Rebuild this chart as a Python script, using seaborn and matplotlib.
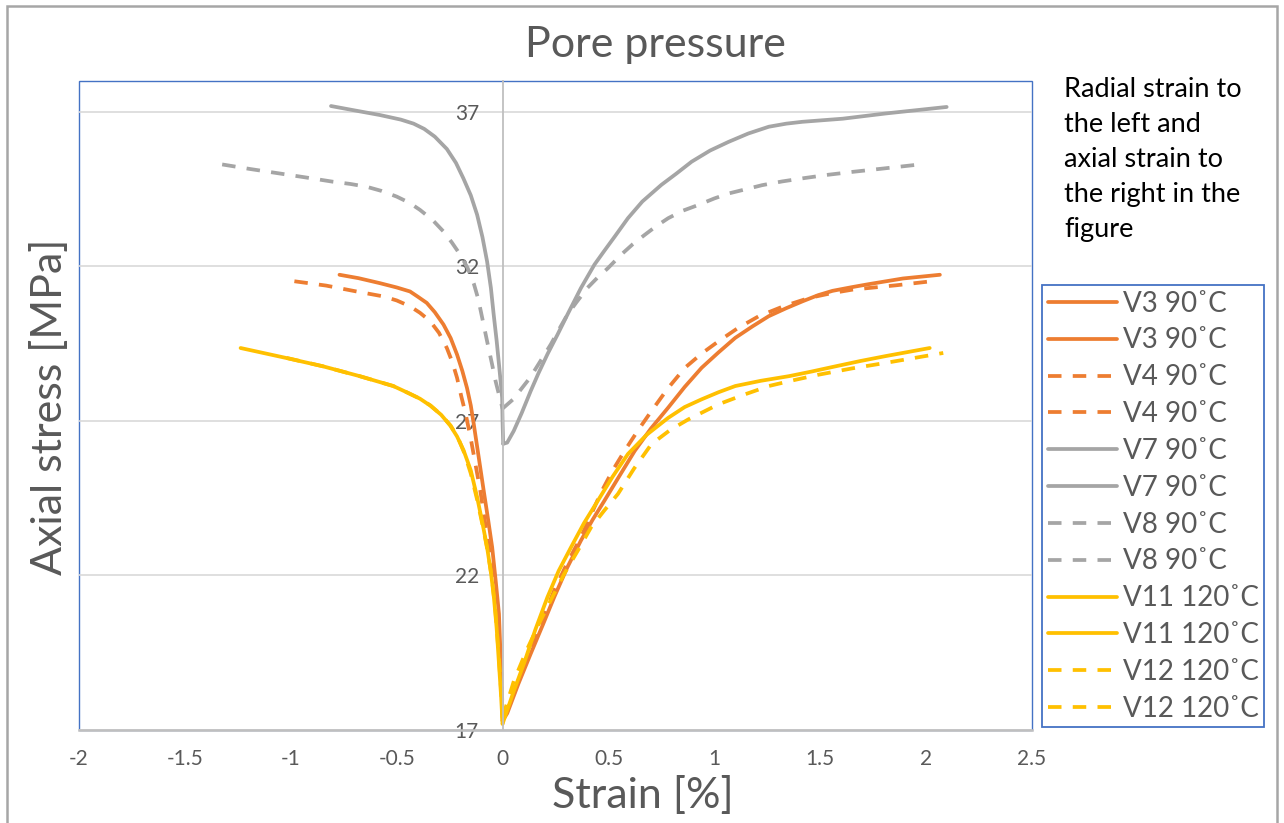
import matplotlib
matplotlib.use("Agg")
import matplotlib.pyplot as plt
from matplotlib.patches import Rectangle
import seaborn as sns

# ---------------- data (strain %, axial stress MPa) ----------------
v3_radial_x = [-0.77, -0.68, -0.58, -0.5, -0.437, -0.4, -0.358, -0.32, -0.279, -0.245, -0.215, -0.19,
               -0.168, -0.15, -0.136, -0.112, -0.089, -0.068, -0.049, -0.032, -0.017, -0.005, 0.0]
v3_radial_y = [31.73, 31.62, 31.46, 31.32, 31.19, 31.02, 30.82, 30.52, 30.12, 29.68, 29.15, 28.62,
               28.07, 27.5, 26.9, 25.8, 24.74, 23.8, 22.91, 21.8, 20.76, 18.6, 17.3]
v3_axial_x = [0.0, 0.022, 0.075, 0.133, 0.19, 0.244, 0.305, 0.37, 0.425, 0.481, 0.55, 0.624, 0.7, 0.782,
              0.86, 0.94, 1.02, 1.099, 1.18, 1.257, 1.34, 1.416, 1.49, 1.558, 1.65, 1.732, 1.891, 2.065]
v3_axial_y = [17.3, 17.54, 18.5, 19.47, 20.4, 21.3, 22.25, 23.13, 23.8, 24.42, 25.2, 26.03, 26.75, 27.43,
              28.1, 28.72, 29.22, 29.69, 30.06, 30.39, 30.65, 30.87, 31.07, 31.21, 31.33, 31.43, 31.61, 31.73]

v4_radial_x = [-0.983, -0.833, -0.69, -0.563, -0.5, -0.437, -0.39, -0.342, -0.3, -0.263, -0.237, -0.215,
               -0.195, -0.175, -0.152, -0.128, -0.105, -0.08, -0.057, -0.04, -0.025, -0.004, 0.0]
v4_radial_y = [31.52, 31.38, 31.19, 31.03, 30.9, 30.71, 30.5, 30.23, 29.85, 29.36, 28.9, 28.4,
               27.8, 27.25, 26.5, 25.6, 24.74, 23.6, 22.59, 21.6, 20.76, 18.6, 17.5]
v4_axial_x = [0.0, 0.038, 0.085, 0.133, 0.19, 0.244, 0.305, 0.37, 0.42, 0.466, 0.52, 0.576, 0.64, 0.703,
              0.78, 0.861, 0.94, 1.02, 1.11, 1.21, 1.33, 1.448, 1.55, 1.653, 1.859, 2.025]
v4_axial_y = [17.5, 17.86, 18.8, 19.69, 20.6, 21.52, 22.4, 23.24, 24.0, 24.7, 25.4, 26.03, 26.7, 27.32,
              28.05, 28.72, 29.18, 29.58, 30.0, 30.39, 30.72, 30.98, 31.13, 31.25, 31.39, 31.52]

v7_radial_x = [-0.81, -0.7, -0.58, -0.48, -0.42, -0.37, -0.32, -0.263, -0.22, -0.185, -0.15, -0.12,
               -0.095, -0.073, -0.055, -0.042, -0.028, -0.017, -0.008, -0.002, 0.0, 0.003]
v7_radial_y = [37.19, 37.05, 36.9, 36.75, 36.62, 36.45, 36.2, 35.8, 35.35, 34.85, 34.3, 33.67,
               32.95, 32.16, 31.3, 30.45, 29.6, 28.84, 28.2, 27.75, 27.0, 26.26]
v7_axial_x = [0.003, 0.022, 0.053, 0.09, 0.133, 0.17, 0.212, 0.26, 0.307, 0.37, 0.434, 0.48, 0.528, 0.592,
              0.66, 0.75, 0.82, 0.893, 0.98, 1.067, 1.16, 1.257, 1.34, 1.416, 1.606, 1.81, 2.097]
v7_axial_y = [26.26, 26.3, 26.68, 27.25, 27.97, 28.55, 29.16, 29.8, 30.45, 31.3, 32.06, 32.5, 32.95, 33.56,
              34.1, 34.64, 35.0, 35.39, 35.75, 36.03, 36.3, 36.52, 36.62, 36.68, 36.78, 36.95, 37.16]

v8_radial_x = [-1.324, -1.19, -1.055, -0.93, -0.80, -0.72, -0.643, -0.57, -0.50, -0.44, -0.39, -0.33,
               -0.279, -0.24, -0.20, -0.165, -0.136, -0.115, -0.095, -0.073, -0.05, -0.033, -0.015, 0.0]
v8_radial_y = [35.3, 35.15, 35.01, 34.88, 34.74, 34.67, 34.58, 34.44, 34.26, 34.06, 33.83, 33.5,
               33.13, 32.78, 32.38, 31.95, 31.45, 30.95, 30.3, 29.58, 28.85, 28.29, 27.8, 27.4]
v8_axial_x = [0.0, 0.05, 0.13, 0.18, 0.228, 0.268, 0.307, 0.35, 0.40, 0.45, 0.497, 0.56, 0.615, 0.671,
              0.725, 0.782, 0.85, 0.925, 1.0, 1.067, 1.15, 1.226, 1.32, 1.416, 1.53, 1.653, 1.8, 1.97]
v8_axial_y = [27.4, 27.7, 28.4, 28.95, 29.48, 29.98, 30.45, 30.85, 31.3, 31.65, 31.94, 32.38, 32.72, 33.02,
              33.3, 33.56, 33.8, 33.99, 34.2, 34.36, 34.5, 34.63, 34.75, 34.85, 34.96, 35.06, 35.17, 35.3]

v11_radial_x = [-1.237, -1.023, -0.849, -0.675, -0.516, -0.45, -0.39, -0.342, -0.29, -0.247, -0.215,
                -0.184, -0.15, -0.12, -0.095, -0.073, -0.055, -0.041, -0.028, -0.017, -0.007, 0.0]
v11_radial_y = [29.36, 29.04, 28.77, 28.45, 28.13, 27.92, 27.72, 27.5, 27.2, 26.85, 26.5,
                26.05, 25.4, 24.53, 23.7, 22.91, 22.1, 21.3, 20.3, 19.15, 18.1, 17.2]
v11_axial_x = [0.0, 0.05, 0.101, 0.155, 0.212, 0.265, 0.323, 0.385, 0.45, 0.52, 0.592, 0.68, 0.782, 0.86,
               0.94, 1.02, 1.099, 1.22, 1.353, 1.46, 1.574, 1.69, 1.81, 2.017]
v11_axial_y = [17.2, 18.2, 19.15, 20.25, 21.3, 22.15, 22.91, 23.7, 24.42, 25.2, 25.93, 26.55, 27.1, 27.45,
               27.7, 27.93, 28.13, 28.3, 28.45, 28.6, 28.77, 28.94, 29.1, 29.36]

v12_radial_x = [-1.02, -0.849, -0.675, -0.516, -0.45, -0.39, -0.34, -0.29, -0.245, -0.21, -0.18, -0.15,
                -0.12, -0.089, -0.068, -0.049, -0.033, -0.02, -0.008, 0.0]
v12_radial_y = [29.04, 28.77, 28.45, 28.13, 27.92, 27.72, 27.5, 27.2, 26.85, 26.45, 25.95, 25.3,
                24.45, 23.45, 22.7, 21.84, 20.8, 19.6, 18.4, 17.4]
v12_axial_x = [0.0, 0.054, 0.115, 0.18, 0.235, 0.291, 0.355, 0.418, 0.48, 0.545, 0.62, 0.703, 0.79, 0.877,
               0.95, 1.02, 1.14, 1.257, 1.375, 1.495, 1.65, 1.81, 2.081]
v12_axial_y = [17.4, 18.6, 19.6, 20.55, 21.3, 22.05, 22.8, 23.56, 24.1, 24.64, 25.45, 26.25, 26.7, 27.05,
               27.3, 27.54, 27.85, 28.13, 28.32, 28.5, 28.7, 28.88, 29.2]

labels = ["V3 90˚C", "V4 90˚C", "V7 90˚C", "V8 90˚C", "V11 120˚C", "V12 120˚C"]
x_ticks = [-2, -1.5, -1, -0.5, 0, 0.5, 1, 1.5, 2, 2.5]
x_tick_labels = ["-2", "-1.5", "-1", "-0.5", "0", "0.5", "1", "1.5", "2", "2.5"]
y_ticks = [17, 22, 27, 32, 37]

series = [
    (labels[0], v3_radial_x, v3_radial_y, v3_axial_x, v3_axial_y, "#ED7D31", False),
    (labels[1], v4_radial_x, v4_radial_y, v4_axial_x, v4_axial_y, "#ED7D31", True),
    (labels[2], v7_radial_x, v7_radial_y, v7_axial_x, v7_axial_y, "#A5A5A5", False),
    (labels[3], v8_radial_x, v8_radial_y, v8_axial_x, v8_axial_y, "#A5A5A5", True),
    (labels[4], v11_radial_x, v11_radial_y, v11_axial_x, v11_axial_y, "#FFC000", False),
    (labels[5], v12_radial_x, v12_radial_y, v12_axial_x, v12_axial_y, "#FFC000", True),
]

# ---------------- style ----------------
sns.set_style("white")
plt.rcParams["font.family"] = ["Lato", "DejaVu Sans"]
TXT = "#595959"

W, H = 1284, 823
fig = plt.figure(figsize=(W / 100, H / 100), dpi=100)
ax = fig.add_axes([79 / W, 1 - 730 / H, (1032 - 79) / W, (730 - 81) / H])

LW = 2.7
for name, rx, ry, axx, ayy, col, dashed in series:
    for xs, ys in ((rx, ry), (axx, ayy)):
        sns.lineplot(x=xs, y=ys, sort=False, estimator=None, ax=ax, color=col,
                     linewidth=LW, label=name, legend=False,
                     solid_capstyle="round", solid_joinstyle="round",
                     dash_capstyle="butt", dash_joinstyle="round")
        ln = ax.lines[-1]
        if dashed:
            ln.set_dashes((3.6, 3.0))

ax.set_xlim(-2, 2.5)
ax.set_ylim(17, 38)
ax.set_xticks(x_ticks)
ax.set_xticklabels(x_tick_labels)
ax.set_yticks(y_ticks)
ax.set_yticklabels([str(v) for v in y_ticks])

ax.yaxis.grid(True, color="#D9D9D9", linewidth=1.2)
ax.xaxis.grid(False)
ax.set_axisbelow(True)

for s in ("top", "right"):
    ax.spines[s].set_visible(False)
ax.spines["left"].set_position(("data", 0))
ax.spines["left"].set_color("#BFBFBF")
ax.spines["left"].set_linewidth(1.3)
ax.spines["bottom"].set_color("#BFBFBF")
ax.spines["bottom"].set_linewidth(1.8)
ax.spines["bottom"].set_zorder(3)

ax.add_patch(Rectangle((0, 0), 1, 1, transform=ax.transAxes, fill=False,
                       edgecolor="#4472C4", linewidth=1.0, zorder=0.5, clip_on=False))

ax.tick_params(axis="y", length=0, pad=17, labelsize=15, labelcolor=TXT)
ax.tick_params(axis="x", length=0, pad=14, labelsize=15, labelcolor=TXT)

ax.set_xlabel("")
ax.set_ylabel("")
fig.text(643 / W, 1 - 795 / H, "Strain [%]", ha="center", va="center", fontsize=31, color=TXT)
fig.text(50 / W, 1 - 407 / H, "Axial stress [MPa]", ha="center", va="center", rotation=90,
         fontsize=31, color=TXT)
fig.text(655 / W, 1 - 45 / H, "Pore pressure", ha="center", va="center", fontsize=31, color=TXT)

fig.text(1064 / W, 1 - 77 / H,
         "Radial strain to\nthe left and\naxial strain to\nthe right in the\nfigure",
         ha="left", va="top", fontsize=19.5, color="black", linespacing=1.5)

handles, labs = ax.get_legend_handles_labels()
leg = fig.legend(handles, labs, loc="upper left", bbox_to_anchor=(1042 / W, 1 - 285 / H),
                 frameon=True, fancybox=False, edgecolor="#4472C4", framealpha=1,
                 fontsize=20, labelcolor=TXT, handlelength=2.5, handletextpad=0.2,
                 labelspacing=0.39, borderpad=0.2, borderaxespad=0.0)
leg.get_frame().set_linewidth(1.3)

fig.add_artist(Rectangle((7 / W, -0.1), (1277 - 7) / W, 1.1 - 6 / H, transform=fig.transFigure,
                         fill=False, edgecolor="#A6A6A6", linewidth=1.8))

fig.savefig("out.png", dpi=100)
